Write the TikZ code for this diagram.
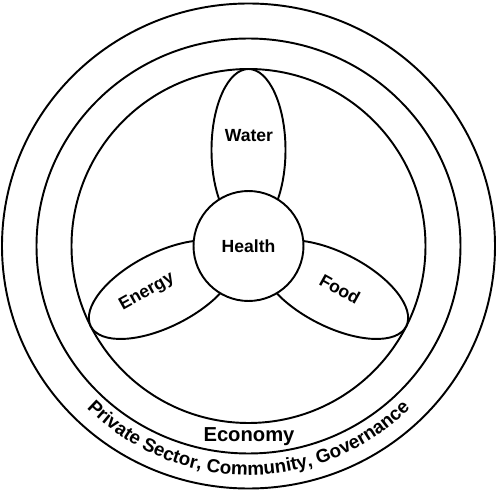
\documentclass[tikz,border=0pt]{standalone}
\usepackage{fontspec}
\setmainfont{Liberation Sans}
\usetikzlibrary{decorations.text}

\begin{document}
\begin{tikzpicture}[x=0.02cm, y=0.02cm,
    ring/.style={line width=1.1pt},
    petal/.style={line width=1.1pt, fill=white},
    hub/.style={draw, circle, line width=1.1pt, fill=white, inner sep=0pt, minimum size=2.2cm, font=\fontsize{10}{12}\bfseries},
    lbl/.style={font=\fontsize{10}{12}\bfseries}]
    \useasboundingbox (0,0) rectangle (498,491);
    \coordinate (c) at (248.5,245);

    % Rings
    \draw[ring] (c) ellipse [x radius=246.5, y radius=242.5];
    \draw[ring] (c) ellipse [x radius=212, y radius=207.5];
    \draw[ring] (c) circle (177);

    % Petals
    \foreach \ang in {90, 207, 333} {
        \draw[petal, shift={(c)}, rotate=\ang] (96,0) ellipse [x radius=81, y radius=37];
    }

    % Centre
    \node[hub] (health) at (c) {Health};

    % Petal labels
    \node[lbl, anchor=base] (water) at (249,349.3) {Water};
    \node[lbl, rotate=29] (energy) at (147,199) {Energy};
    \node[lbl, rotate=-29] (food) at (340,202) {Food};

    % Ring labels
    \node[font=\fontsize{11.5}{13}\bfseries, anchor=base] (economy) at (249,49.3) {Economy};
    \path[decorate, shift={(c)},
        decoration={text along path, text align=center,
            text={|\fontsize{10.7}{12}\bfseries|Private Sector{,} Community{,} Governance}}]
        (223:229) arc [start angle=223, end angle=317, radius=229];

\end{tikzpicture}
\end{document}
